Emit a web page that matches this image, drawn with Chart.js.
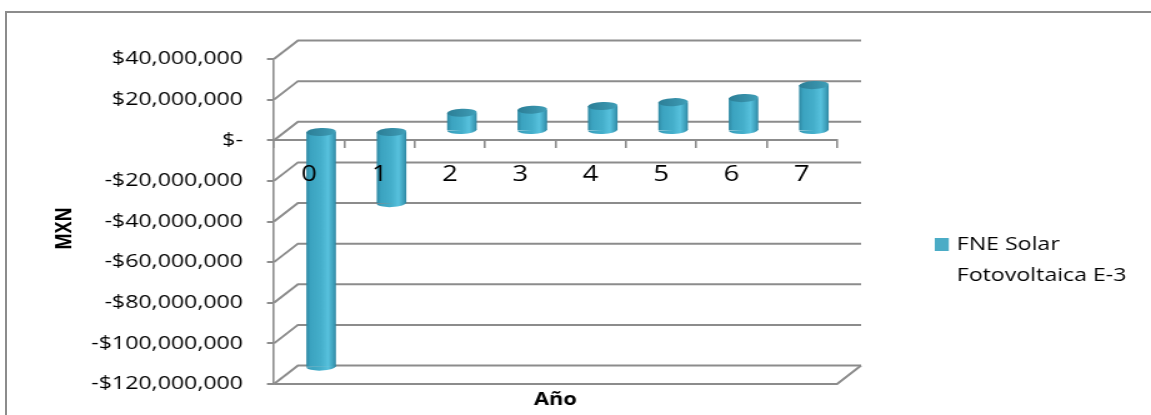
<!DOCTYPE html>
<html>
<head>
<meta charset="utf-8">
<title>FNE Solar Fotovoltaica E-3</title>
<script src="https://cdn.jsdelivr.net/npm/chart.js@4.4.1/dist/chart.umd.min.js"></script>
<style>
  html, body { margin: 0; padding: 0; background: #ffffff; overflow: hidden; }
  #frame {
    position: absolute; left: 5px; top: 11px; width: 1400px; height: 600px;
    border: 2px solid #8c8c8c; box-sizing: border-box;
  }
  #chart { position: absolute; left: 0; top: 0; }
</style>
</head>
<body>
<div id="frame"></div>
<!-- the chart is laid out on a narrower canvas and widened by CSS -->
<canvas id="chart" width="921" height="415" style="width:1151px;height:415px"></canvas>
<script>
// ---- data -----------------------------------------------------------
const years = ['0', '1', '2', '3', '4', '5', '6', '7'];
const fneSolar = [-116000000, -35500000, 9000000, 10500000, 12300000, 14200000, 16200000, 22600000];
const yTickValues = [40000000, 20000000, 0, -20000000, -40000000, -60000000, -80000000, -100000000, -120000000];
const seriesLines = ['FNE Solar', 'Fotovoltaica E-3'];
const xTitle = 'Año';
const yTitle = 'MXN';

// ---- look -----------------------------------------------------------
const FONT = '"Open Sans", "Liberation Sans", sans-serif';
const GRID = '#8c8c8c';
const SERIES_COLOR = '#4bacc6';
const DEPTH_X = 19.2;     // oblique depth of the walls
const DEPTH_Y = -18.5;
const CAP_RY = 4;         // vertical radius of cylinder ends
const CAP_TILT = -0.05;

function fmtMXN(v) {
  if (v === 0) return '$-';
  const s = '$' + Math.abs(v).toLocaleString('en-US');
  return v < 0 ? '-' + s : s;
}

// horizontal shading across each cylinder body
function bodyGradient(context) {
  const chart = context.chart;
  const xs = chart.scales.x;
  if (!chart.chartArea || !xs || context.dataIndex === undefined) return SERIES_COLOR;
  const cx = xs.getPixelForValue(context.dataIndex);
  const w = (xs.width / years.length) * context.dataset.barPercentage;
  const g = chart.ctx.createLinearGradient(cx - w / 2, 0, cx + w / 2, 0);
  g.addColorStop(0, '#2e88a2');
  g.addColorStop(0.14, '#3ba3c0');
  g.addColorStop(0.5, '#45afcb');
  g.addColorStop(0.74, '#57c1dd');
  g.addColorStop(0.92, '#3c9db8');
  g.addColorStop(1, '#2c84a0');
  return g;
}

// back wall, side wall and floor of the 3-D box
const wallsPlugin = {
  id: 'walls',
  beforeDraw(chart) {
    const ctx = chart.ctx;
    const ys = chart.scales.y;
    const { left: L, right: R, bottom: B } = chart.chartArea;
    ctx.save();
    ctx.strokeStyle = GRID;
    ctx.lineWidth = 2;
    ctx.lineCap = 'butt';
    yTickValues.forEach(v => {
      const yf = ys.getPixelForValue(v);
      ctx.beginPath();
      ctx.moveTo(L, yf);
      ctx.lineTo(L + DEPTH_X, yf + DEPTH_Y);
      ctx.lineTo(R + DEPTH_X, yf + DEPTH_Y);
      ctx.stroke();
    });
    // floor front edge and right edge
    ctx.beginPath();
    ctx.moveTo(L, B);
    ctx.lineTo(R, B);
    ctx.lineTo(R + DEPTH_X, B + DEPTH_Y);
    ctx.stroke();
    ctx.restore();
  }
};

// cylinders sit half way into the depth; add the round ends
const cylinderPlugin = {
  id: 'cylinders',
  beforeDatasetsDraw(chart) {
    chart.ctx.save();
    chart.ctx.translate(DEPTH_X / 2, DEPTH_Y / 2);
  },
  afterDatasetsDraw(chart) {
    const ctx = chart.ctx;
    const meta = chart.getDatasetMeta(0);
    meta.data.forEach(bar => {
      const { x, y, base, width } = bar.getProps(['x', 'y', 'base', 'width'], true);
      const rx = width / 2;
      const top = Math.min(y, base);
      const bottom = Math.max(y, base);
      ctx.fillStyle = bar.options.backgroundColor;
      ctx.beginPath();
      ctx.ellipse(x, bottom, rx, CAP_RY, CAP_TILT, 0, Math.PI);
      ctx.fill();
      const g = ctx.createLinearGradient(x - rx, top, x + rx, top);
      g.addColorStop(0, '#2c7f97');
      g.addColorStop(0.6, '#3790a9');
      g.addColorStop(1, '#409fb8');
      ctx.fillStyle = g;
      ctx.beginPath();
      ctx.ellipse(x, top, rx, CAP_RY, CAP_TILT, 0, Math.PI * 2);
      ctx.fill();
    });
    ctx.restore();
  }
};

// axis titles and the legend at the right
const textPlugin = {
  id: 'texts',
  afterDraw(chart) {
    const ctx = chart.ctx;
    const { left: L, right: R, top: T, bottom: B } = chart.chartArea;
    ctx.save();
    ctx.fillStyle = '#000000';
    ctx.font = 'bold 17.5px ' + FONT;
    ctx.textAlign = 'center';
    ctx.textBaseline = 'alphabetic';
    ctx.fillText(xTitle, (L + R) / 2, B + 21);

    ctx.save();
    ctx.translate(L - 167.6, (T + B) / 2 + 7);
    ctx.rotate(-Math.PI / 2);
    ctx.textBaseline = 'middle';
    ctx.fillText(yTitle, 0, 0);
    ctx.restore();

    const lx = R + 78.2;
    ctx.fillStyle = SERIES_COLOR;
    ctx.fillRect(lx, 238, 11.2, 13);
    ctx.fillStyle = '#000000';
    ctx.font = '18.5px ' + FONT;
    ctx.textAlign = 'left';
    ctx.textBaseline = 'alphabetic';
    seriesLines.forEach((line, i) => ctx.fillText(line, lx + 17.6, 250 + i * 31));
    ctx.restore();
  }
};

const PLOT_LEFT = 219.2;
const PLOT_RIGHT = 669.8;

new Chart(document.getElementById('chart'), {
  type: 'bar',
  data: {
    labels: years,
    datasets: [{
      label: seriesLines.join(' '),
      data: fneSolar,
      backgroundColor: bodyGradient,
      borderWidth: 0,
      barPercentage: 0.42,
      categoryPercentage: 1,
      clip: false
    }]
  },
  options: {
    responsive: false,
    animation: false,
    devicePixelRatio: 1,
    layout: { padding: { left: 0, top: 59, right: 921 - PLOT_RIGHT, bottom: 31 } },
    plugins: {
      legend: { display: false },
      tooltip: { enabled: false }
    },
    scales: {
      x: {
        type: 'category',
        position: { y: 0 },
        offset: true,
        grid: { offset: true, drawOnChartArea: false, tickLength: 7, color: GRID, lineWidth: 1.6 },
        border: { display: true, color: GRID, width: 2 },
        ticks: {
          z: 1, padding: 14.5, color: '#000000', maxRotation: 0, autoSkip: false,
          font: { family: FONT, size: 22 }
        }
      },
      y: {
        min: -120000000,
        max: 40000000,
        afterBuildTicks: s => { s.ticks = yTickValues.map(v => ({ value: v })); },
        afterFit: s => { s.width = PLOT_LEFT; },
        grid: { drawOnChartArea: false, tickLength: 5.6, color: GRID, lineWidth: 2 },
        border: { display: true, color: GRID, width: 1.6 },
        ticks: {
          padding: 19.2, color: '#000000', autoSkip: false,
          font: { family: FONT, size: 18.5 },
          callback: v => fmtMXN(v)
        }
      }
    }
  },
  plugins: [wallsPlugin, cylinderPlugin, textPlugin]
});
</script>
</body>
</html>
